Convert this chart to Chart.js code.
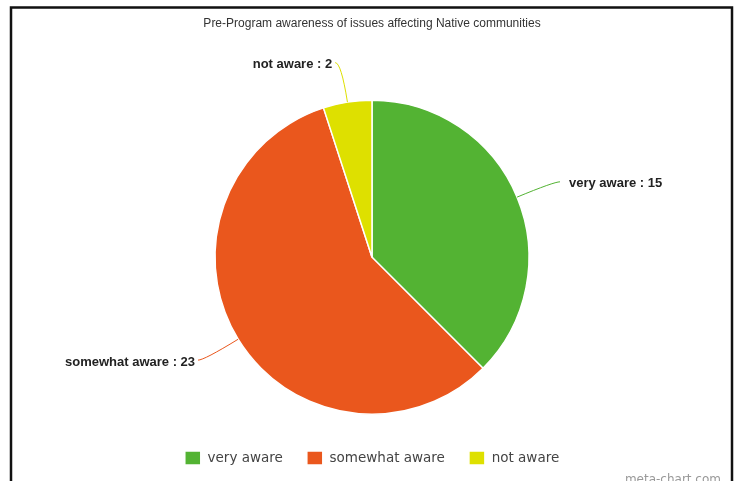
<!DOCTYPE html>
<html>
<head>
<meta charset="utf-8">
<script src="https://cdn.jsdelivr.net/npm/chart.js@4"></script>
<style>
    html, body { margin: 0; padding: 0; background: #fff; overflow: hidden; }
    #awarenessChart { display: block; }
</style>
</head>
<body>
<canvas id="awarenessChart" width="738" height="481"></canvas>
<script>
// survey answers
const categories = ["very aware", "somewhat aware", "not aware"];
const counts = [15, 23, 2];
const sliceColors = ["#53b333", "#ea571d", "#dee000"];

/* =====================
   Frame + watermark
   ===================== */
const framePlugin = {
    id: 'frame',
    beforeDraw(chart) {
        const ctx = chart.ctx;
        ctx.save();
        ctx.fillStyle = '#fff';
        ctx.fillRect(0, 0, chart.width, chart.height);
        ctx.strokeStyle = '#111';
        ctx.lineWidth = 2.5;
        ctx.strokeRect(11, 7.5, 721, chart.height + 20);
        ctx.restore();
    },
    afterDraw(chart) {
        const ctx = chart.ctx;
        ctx.save();
        ctx.fillStyle = '#999';
        ctx.font = '12px "DejaVu Sans"';
        ctx.textAlign = 'right';
        ctx.textBaseline = 'top';
        ctx.fillText('meta-chart.com', 721, 474);
        ctx.restore();
    }
};

/* =====================
   Outside labels with leader lines
   ===================== */
const outsideLabels = {
    id: 'outsideLabels',
    afterDatasetsDraw(chart) {
        const ctx = chart.ctx;
        const meta = chart.getDatasetMeta(0);
        const values = chart.data.datasets[0].data;
        ctx.save();
        meta.data.forEach((arc, i) => {
            const mid = (arc.startAngle + arc.endAngle) / 2;
            const dx = Math.cos(mid), dy = Math.sin(mid);
            const r = arc.outerRadius;
            const x0 = arc.x + dx * r, y0 = arc.y + dy * r;
            const x1 = arc.x + dx * (r + 40), y1 = arc.y + dy * (r + 40);
            const right = dx >= 0;
            const x2 = x1 + (right ? 6 : -6);

            ctx.strokeStyle = sliceColors[i];
            ctx.lineWidth = 1;
            ctx.beginPath();
            ctx.moveTo(x0, y0);
            ctx.quadraticCurveTo(x1, y1, x2, y1);
            ctx.stroke();

            ctx.fillStyle = '#222';
            ctx.font = 'bold 13px "Liberation Sans"';
            ctx.textBaseline = 'middle';
            ctx.textAlign = right ? 'left' : 'right';
            ctx.fillText(chart.data.labels[i] + ' : ' + values[i], x2 + (right ? 9 : -3), y1 + 2);
        });
        ctx.restore();
    }
};

new Chart(document.getElementById("awarenessChart"), {
    type: 'pie',
    data: {
        labels: categories,
        datasets: [{
            data: counts,
            backgroundColor: sliceColors,
            borderColor: '#fff',
            borderWidth: 1.5,
            radius: 157
        }]
    },
    options: {
        responsive: false,
        animation: false,
        layout: {
            padding: { left: 6, top: 0, right: 0, bottom: 6 }
        },
        plugins: {
            title: {
                display: true,
                text: 'Pre-Program awareness of issues affecting Native communities',
                color: '#333',
                font: { family: '"Liberation Sans"', size: 12, weight: 'normal' },
                padding: { top: 16, bottom: 57 }
            },
            legend: {
                position: 'bottom',
                labels: {
                    boxWidth: 16,
                    boxHeight: 14,
                    padding: 24,
                    color: '#444',
                    font: { family: '"DejaVu Sans"', size: 13.5 }
                }
            },
            tooltip: { enabled: false }
        }
    },
    plugins: [framePlugin, outsideLabels]
});
</script>
</body>
</html>
